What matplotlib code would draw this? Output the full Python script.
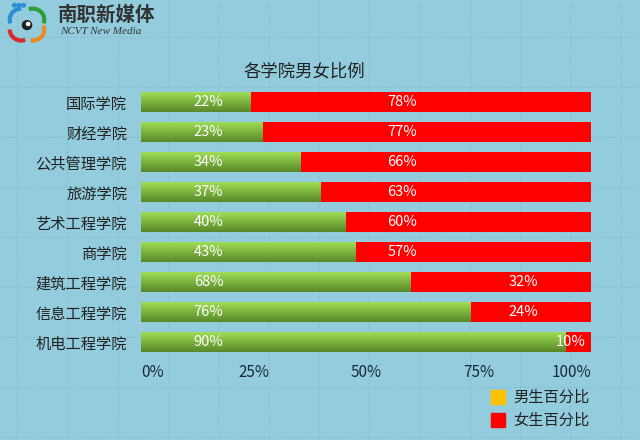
import numpy as np
import matplotlib.pyplot as plt
from matplotlib.patches import Arc, Circle, Rectangle

plt.rcParams['font.family'] = ['Noto Sans CJK SC', 'DejaVu Sans']

colleges = ['国际学院', '财经学院', '公共管理学院', '旅游学院', '艺术工程学院',
            '商学院', '建筑工程学院', '信息工程学院', '机电工程学院']
male_share = [24.4, 26.9, 35.5, 39.8, 45.5, 47.7, 60.0, 73.3, 94.4]
male_labels = ['22%', '23%', '34%', '37%', '40%', '43%', '68%', '76%', '90%']
female_labels = ['78%', '77%', '66%', '63%', '60%', '57%', '32%', '24%', '10%']
xticks = [0, 25, 50, 75, 100]
xticklabels = ['0%', '25%', '50%', '75%', '100%']
legend_names = ['男生百分比', '女生百分比']

bg = '#93cddd'
W, H = 640, 440
fig = plt.figure(figsize=(6.4, 4.4), dpi=100, facecolor=bg)

# sheet gridlines in the background
for gx in np.arange(17, W, 50.3):
    fig.add_artist(plt.Line2D([gx / W, gx / W], [0, 1], color='#80b8ca', lw=0.8,
                              ls=(0, (1, 2)), zorder=-1))
for gy in np.arange(37, H, 50):
    fig.add_artist(plt.Line2D([0, 1], [1 - gy / H, 1 - gy / H], color='#80b8ca', lw=0.8,
                              ls=(0, (1, 2)), zorder=-1))

ax = fig.add_axes([141 / W, 1 - 357 / H, 450 / W, 270 / H])
ax.set_facecolor('none')

n = len(colleges)
ypos = np.arange(n)[::-1]
h = 0.66
grad = np.linspace(0, 1, 50)[:, None]
top = np.array([0.62, 0.87, 0.33])
bot = np.array([0.35, 0.53, 0.16])
grad_img = (top[None, None, :] * (1 - grad[..., None]) + bot[None, None, :] * grad[..., None])

for y, m, ml, fl in zip(ypos, male_share, male_labels, female_labels):
    ax.barh(y, 100 - m, left=m, height=h, color='#ff0000', zorder=2)
    ax.imshow(grad_img, extent=[0, m, y - h / 2, y + h / 2], aspect='auto', zorder=3,
              interpolation='bilinear')
    ax.text(15, y, ml, color='white', fontsize=10.5, ha='center', va='center', zorder=4)
    fx = 58 if m < 50 else max(85, m + 1)
    ax.text(fx, y, fl, color='white', fontsize=10.5, ha='center', va='center', zorder=4)

ax.set_xlim(0, 100)
ax.set_ylim(-0.5, n - 0.5)
ax.set_yticks(ypos)
ax.set_yticklabels(colleges, fontsize=11, color='#222222')
ax.set_xticks(xticks)
ax.set_xticklabels(xticklabels, fontsize=11, color='#1a2a3a')
for lab, ha in zip(ax.get_xticklabels(), ['left', 'center', 'center', 'center', 'right']):
    lab.set_ha(ha)
ax.tick_params(length=0, pad=5)
ax.tick_params(axis='y', pad=10)
for s in ['top', 'right', 'bottom']:
    ax.spines[s].set_visible(False)
ax.spines['left'].set_color('#a9c4d0')
ax.spines['left'].set_linewidth(0.8)

fig.text(304 / W, 1 - 72 / H, '各学院男女比例', fontsize=12.5, ha='center', va='center', color='#222222')

# legend
for i, (name, c) in enumerate(zip(legend_names, ['#ffc000', '#ff0000'])):
    yy = 397 + 23 * i
    fig.add_artist(Rectangle((491 / W, 1 - (yy + 7) / H), 14 / W, 14 / H, color=c,
                             transform=fig.transFigure))
    fig.text(513 / W, 1 - yy / H, name, fontsize=11, ha='left', va='center', color='#222222')

# logo
fig.text(58 / W, 1 - 15 / H, '南职新媒体', fontsize=14, fontweight='bold', style='italic',
         ha='left', va='center', color='#333333')
fig.text(60 / W, 1 - 32 / H, 'NCVT New Media', fontsize=8, style='italic',
         family='Liberation Serif', ha='left', va='center', color='#333333')
lax = fig.add_axes([4 / W, 1 - 46 / H, 46 / W, 44 / H])
lax.set_xlim(-1, 1)
lax.set_ylim(-1, 1)
lax.axis('off')
lax.add_patch(Arc((-0.25, 0.2), 1.0, 1.0, theta1=90, theta2=200, color='#2a8fd8', lw=3))
lax.add_patch(Arc((0.25, 0.2), 1.0, 1.0, theta1=-20, theta2=110, color='#2e9e3a', lw=3))
lax.add_patch(Arc((-0.25, -0.25), 1.0, 1.0, theta1=180, theta2=290, color='#d8282a', lw=3))
lax.add_patch(Arc((0.25, -0.25), 1.0, 1.0, theta1=260, theta2=20, color='#f08a1c', lw=3))
lax.add_patch(Circle((0.0, -0.05), 0.2, color='#222222'))
lax.add_patch(Circle((0.05, 0.0), 0.07, color='white'))
for cx in [-0.55, -0.35, -0.15]:
    lax.add_patch(Circle((cx, 0.85), 0.08, color='#2a8fd8'))

fig.savefig('out.png', dpi=100, facecolor=bg)
